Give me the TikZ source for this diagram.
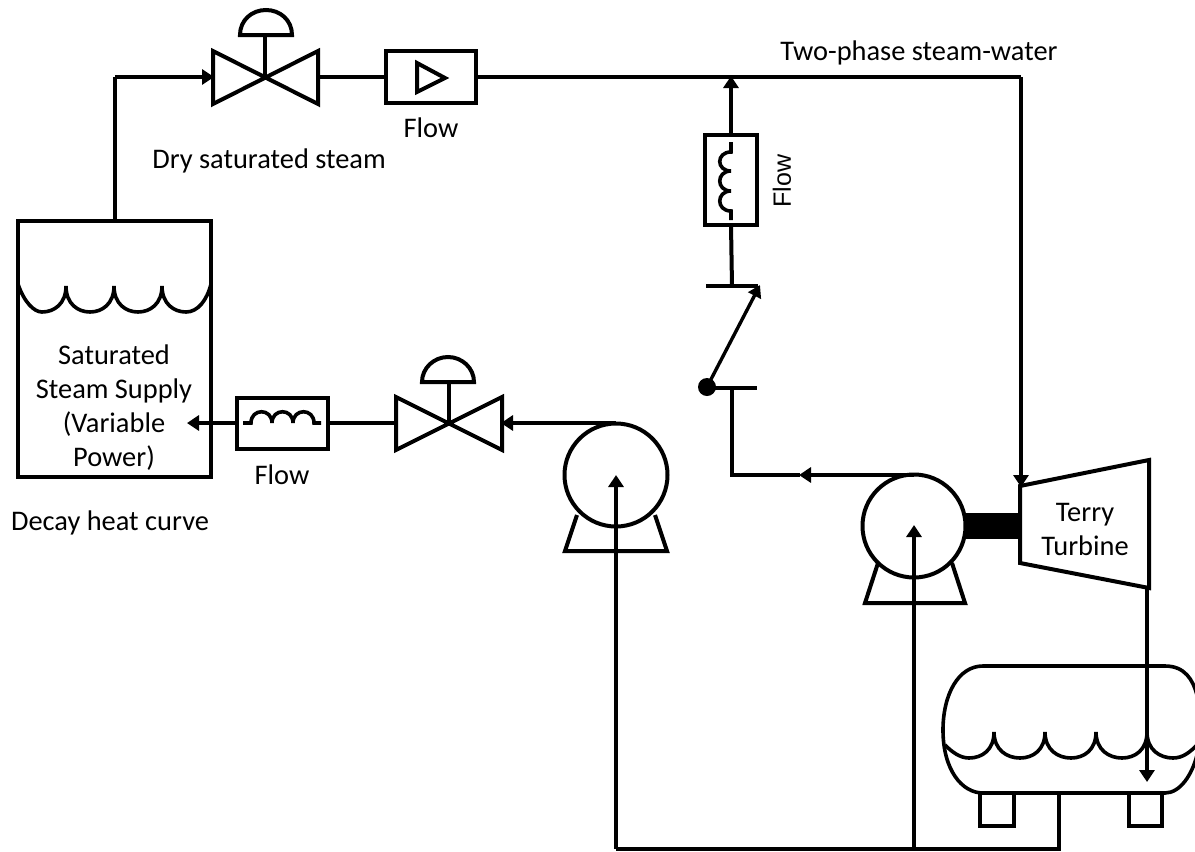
\documentclass[tikz,border=0pt]{standalone}
\usepackage{fontspec}
\setmainfont{Carlito}
\newfontfamily\arialf{Liberation Sans}
\usetikzlibrary{arrows.meta}
\tikzset{
  pipe/.style={line width=4pt},
  flowpipe/.style={line width=3.2pt,-{Triangle[length=12pt,width=15pt]},shorten >=-1pt},
  sym/.style={line width=4pt,line join=miter},
  wave/.style={line width=3.6pt},
  box/.style={draw,line width=4pt,fill=white,rectangle,inner sep=0pt,outer sep=0pt},
  pumpc/.style={draw,line width=4pt,circle,inner sep=0pt,outer sep=0pt,minimum size=103pt},
  lbl/.style={font=\fontsize{28.4}{34}\selectfont,inner sep=0pt,align=center,text=black},
}
\begin{document}
\begin{tikzpicture}[x=1pt,y=-1pt]
\useasboundingbox (0,0) rectangle (1195,852);
% --- named anchor points
\coordinate (tanktop) at (115,221);
\coordinate (bendA) at (115,77);
\coordinate (vAl) at (213,77);
\coordinate (vAc) at (265,77);
\coordinate (vAr) at (318,77);
\coordinate (vBl) at (396,423);
\coordinate (vBc) at (449,423);
\coordinate (vBr) at (502,423);
\coordinate (tee) at (731,77);
\coordinate (bendB) at (1021,77);
\coordinate (turbin) at (1021,486);
\coordinate (swTop) at (732,286);
\coordinate (swBot) at (732,388);
\coordinate (swTip) at (760,285);
\coordinate (bendC) at (732,475);
\coordinate (p2top) at (914,475);
\coordinate (p2mid) at (800,475);
\coordinate (p1top) at (616,423);
\coordinate (outT) at (1147,588);
\coordinate (outD) at (1147,781);
\coordinate (drumB) at (1059,793);
\coordinate (lineR) at (1059,849);
\coordinate (lineM) at (914,849);
\coordinate (lineL) at (616,849);
\coordinate (p1in) at (616,476);
\coordinate (p2in) at (914,526);
\coordinate (flowLin) at (188,423);
% --- tank
\draw[sym] (18,221) rectangle (211,477);
\draw[wave] (18,284) .. controls (24,302) and (34,312) .. (42,312) .. controls (54,312) and (66,304) .. (66,286)
  .. controls (66,304) and (78,312) .. (90,312) .. controls (102,312) and (114,304) .. (114,286)
  .. controls (114,304) and (126,312) .. (138,312) .. controls (150,312) and (162,304) .. (162,286)
  .. controls (162,304) and (174,312) .. (186,312) .. controls (198,312) and (207,300) .. (211,284);
% --- top valve
\draw[sym] (213,51) -- (318,104) -- (318,51) -- (213,104) -- cycle;
\draw[sym] (vAc) -- (265,36);
\draw[sym] (240,35) .. controls (240,20) and (252,10) .. (266,10) .. controls (280,10) and (292,20) .. (292,35) -- cycle;
% --- lower valve
\draw[sym] (396,397) -- (502,450) -- (502,397) -- (396,450) -- cycle;
\draw[sym] (vBc) -- (449,382);
\draw[sym] (422,382) .. controls (422,368) and (434,357) .. (448,357) .. controls (462,357) and (474,368) .. (474,382) -- cycle;
% --- flow boxes
\node[box,minimum width=90pt,minimum height=52pt] (fA) at (431,77) {};
\draw[sym] (417,63) -- (445,78) -- (417,92) -- cycle;
\node[box,minimum width=91pt,minimum height=51pt] (fB) at (282,423) {};
\draw[wave] (243,423) -- (251,423) .. controls (251,408) and (272,408) .. (272,423)
  .. controls (272,408) and (293,408) .. (293,423)
  .. controls (293,408) and (314,408) .. (314,423) -- (321,423);
\node[box,minimum width=52pt,minimum height=90pt] (fC) at (731,180) {};
\draw[wave] (731,142) -- (731,152) .. controls (716,152) and (716,171) .. (731,171)
  .. controls (716,171) and (716,191) .. (731,191)
  .. controls (716,191) and (716,211) .. (731,211) -- (731,220);
% --- pumps
\node[pumpc] (p1) at (616,475) {};
\draw[sym] (577,515) -- (565,551) -- (667,551) -- (655,515);
\node[pumpc] (p2) at (914,526) {};
\draw[sym] (878,563) -- (865,603) -- (965,603) -- (952,563);
% --- coupling and turbine
\fill (964,513) rectangle (1021,539);
\draw[sym] (1020,486) -- (1149,460) -- (1149,588) -- (1020,563) -- cycle;
% --- drum
\draw[wave] (983,666) -- (1165,666) .. controls (1185,666) and (1193,680) .. (1197,695);
\draw[wave] (983,666) .. controls (958,666) and (943,695) .. (943,730) .. controls (943,770) and (962,793) .. (983,793) -- (1165,793)
  .. controls (1180,793) and (1192,775) .. (1197,755);
\draw[wave] (945,745) .. controls (952,752) and (960,758) .. (969,758) .. controls (982,758) and (994,750) .. (994,732)
  .. controls (994,750) and (1007,758) .. (1020,758) .. controls (1033,758) and (1045,750) .. (1045,732)
  .. controls (1045,750) and (1058,758) .. (1071,758) .. controls (1084,758) and (1096,750) .. (1096,732)
  .. controls (1096,750) and (1109,758) .. (1122,758) .. controls (1135,758) and (1147,750) .. (1147,732)
  .. controls (1147,750) and (1160,758) .. (1173,758) .. controls (1183,758) and (1190,752) .. (1197,745);
\draw[wave] (980,793) -- (980,826) -- (1014,826) -- (1014,793);
\draw[wave] (1129,793) -- (1129,826) -- (1162,826) -- (1162,793);
% --- switch
\draw[sym] (706,286) -- (758,286);
\draw[sym] (707,388) -- (757,388);
\node[circle,fill=black,inner sep=0pt,minimum size=18pt] (swDot) at (707,387) {};
\draw[line width=3.4pt,-{Triangle[length=12pt,width=14pt]}] (swDot.center) -- (swTip);
% --- connectors
\draw[pipe] (tanktop) -- (bendA);
\draw[flowpipe,line join=miter] (bendA) -- (vAl);
\draw[pipe] (vAr) -- (fA.west);
\draw[pipe] (fA.east) -- (bendB);
\draw[flowpipe,line join=miter] (bendB) -- (turbin);
\draw[flowpipe] (fC.north) -- (tee);
\draw[pipe] (fC.south) -- (swTop);
\draw[pipe] (swBot) -- (bendC) -- (p2mid);
\draw[flowpipe] (p2top) -- (p2mid);
\draw[pipe] (fB.east) -- (vBl);
\draw[flowpipe] (fB.west) -- (flowLin);
\draw[flowpipe] (p1top) -- (vBr);
\draw[flowpipe] (lineL) -- (p1in);
\draw[flowpipe] (lineM) -- (p2in);
\draw[pipe] (lineL) -- (lineR) -- (drumB);
\draw[flowpipe] (outT) -- (outD);
% --- text
\node[lbl] (t1) at (919,53) {Two-phase steam-water};
\node[lbl] (t2) at (431,128) {Flow};
\node[lbl] (t3) at (269,161) {Dry saturated steam};
\node[lbl,font=\arialf\fontsize{25}{26}\selectfont,rotate=90] (t4) at (782,181) {Flow};
\node[lbl,anchor=center] (t5) at (114,408) {Saturated\\Steam Supply\\(Variable\\Power)};
\node[lbl] (t6) at (282,475) {Flow};
\node[lbl] (t7) at (110,523) {Decay heat curve};
\node[lbl] (t8) at (1085,529) {Terry\\Turbine};
\end{tikzpicture}
\end{document}
